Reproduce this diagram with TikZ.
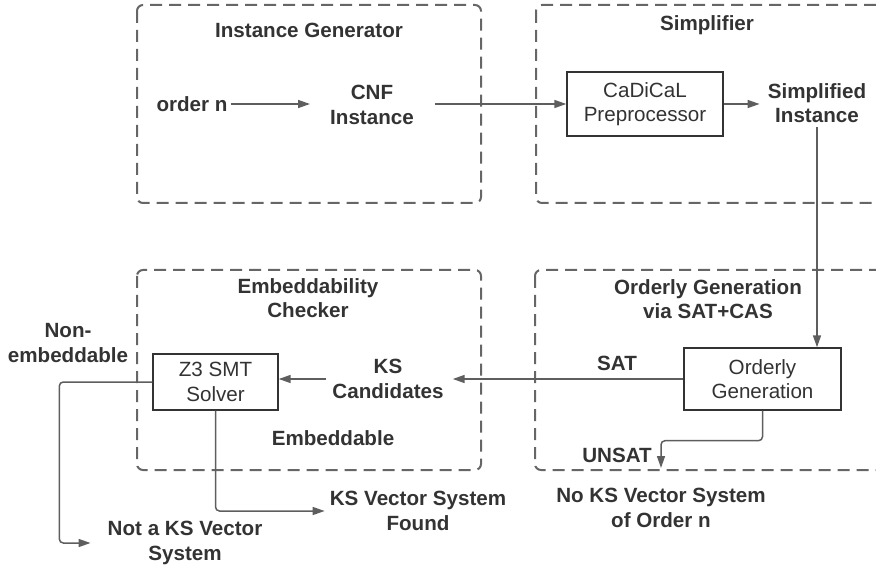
\documentclass[tikz,border=0pt]{standalone}
\usepackage{fontspec}
\setmainfont{Liberation Sans}
\usetikzlibrary{arrows.meta}
\definecolor{txt}{HTML}{333333}
\definecolor{ln}{HTML}{5E5E5E}
\definecolor{grp}{HTML}{666666}
\begin{document}
\begin{tikzpicture}[x=1pt,y=-1pt,
  lbl/.style={font=\fontsize{20.6}{24.5}\selectfont\bfseries, text=txt, align=center, inner sep=0pt},
  procbox/.style={draw=txt, line width=1.4pt, fill=white, font=\fontsize{20.6}{24.5}\selectfont, text=txt, align=center, inner sep=0pt},
  group/.style={draw=grp, line width=2pt, dash pattern=on 12pt off 7pt, rounded corners=6pt},
  conn/.style={draw=ln, line width=1.5pt, -{Triangle[length=12pt,width=8pt]}},
]
\useasboundingbox (0,0) rectangle (876,572);
\begin{scope}
\clip (0,0) rectangle (876,572);
\draw[group] (137,5) rectangle (481,203);
\draw[group] (536,5) rectangle (895,203);
\draw[group] (137,270) rectangle (481,470);
\draw[group] (535,270) rectangle (895,470);
\end{scope}

\node[lbl] (ig) at (309,30) {Instance Generator};
\node[lbl] (sim) at (707,25) {Simplifier};
\node[lbl] (ec) at (308,298) {Embeddability\\Checker};
\node[lbl] (og) at (708,299) {Orderly Generation\\via SAT+CAS};
\node[lbl] (ordern) at (192,104) {order n};
\node[lbl] (cnf) at (372,105) {CNF\\Instance};
\node[procbox, minimum width=156pt, minimum height=64pt] (cad) at (645,104) {CaDiCaL\\Preprocessor};
\node[lbl] (simp) at (817,103) {Simplified\\Instance};
\node[procbox, minimum width=157pt, minimum height=62pt] (ord) at (762.5,379) {Orderly\\Generation};
\node[lbl] (sat) at (617,363) {SAT};
\node[lbl] (ks) at (388,379) {KS\\Candidates};
\node[procbox, minimum width=125pt, minimum height=56pt] (z3) at (215.5,382) {Z3 SMT\\Solver};
\node[lbl] (nonemb) at (68,343) {Non-\\embeddable};
\node[lbl] (emb) at (333,438) {Embeddable};
\node[lbl] (notks) at (185,543) {Not a KS Vector\\System};
\node[lbl] (found) at (418,511) {KS Vector System\\Found};
\node[lbl] (unsat) at (617,455) {UNSAT};
\node[lbl] (noks) at (661,508) {No KS Vector System\\of Order n};

\coordinate (ylevel) at (0,468);
\coordinate (untip) at (noks.north |- ylevel);

\draw[conn, shorten <=3pt, shorten >=20pt] (ordern.east) -- (ordern.east -| cnf.west);
\draw[conn, shorten <=21pt] (cnf.east |- cad.west) -- (cad.west);
\draw[conn, shorten >=8pt] (cad.east) -- (cad.east -| simp.west);
\draw[conn, shorten <=4pt] (simp.south) -- (simp.south |- ord.north);
\draw[conn, shorten >=9pt] (ord.west) -- (ord.west -| ks.east);
\draw[conn, shorten <=6pt] (ks.west) -- (ks.west -| z3.east);
\draw[conn, rounded corners=4pt, shorten >=17pt] (z3.west) -- ++(-93,0) |- (notks.west);
\draw[conn, rounded corners=4pt, shorten >=5pt] (z3.south) |- (found.west);
\draw[conn, rounded corners=4pt] (ord.south) -- ++(0,30) -| (untip);
\end{tikzpicture}
\end{document}
